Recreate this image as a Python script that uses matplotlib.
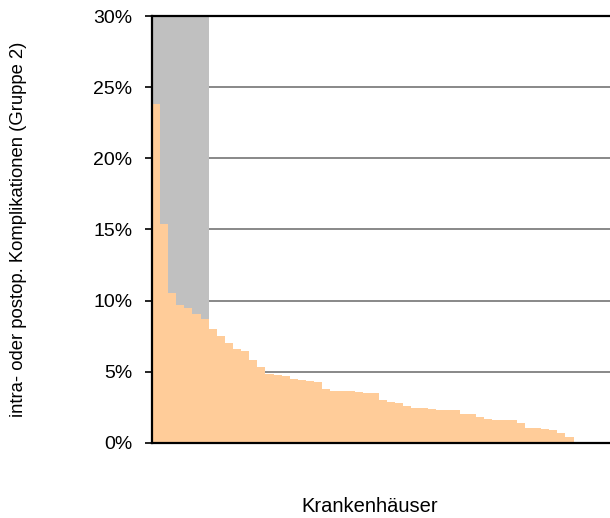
import matplotlib.pyplot as plt
from matplotlib.ticker import FuncFormatter

plt.rcParams['font.family'] = ['Liberation Sans', 'DejaVu Sans']

# Anteil Komplikationen je Krankenhaus (in %), absteigend sortiert
werte = [23.8, 15.4, 10.5, 9.66, 9.5, 9.07, 8.68, 8.0, 7.53, 7.0,
         6.6, 6.46, 5.82, 5.33, 4.82, 4.77, 4.72, 4.5, 4.4, 4.32,
         4.3, 3.79, 3.67, 3.65, 3.62, 3.6, 3.52, 3.5, 3.0, 2.86,
         2.79, 2.62, 2.47, 2.45, 2.39, 2.34, 2.32, 2.3, 2.05, 2.02,
         1.8, 1.68, 1.64, 1.6, 1.58, 1.4, 1.06, 1.04, 0.95, 0.93,
         0.72, 0.44]
# Anzahl der auffaelligen Haeuser (grauer Bereich) und dessen Hoehe
n_grau = 7
grau_hoehe = 30
yticks = [0, 5, 10, 15, 20, 25, 30]

fig = plt.figure(figsize=(6.1, 5.18), dpi=100)
ax = fig.add_axes([0.249, 0.145, 0.751, 0.824])

x = list(range(len(werte)))
ax.bar(x[:n_grau], [grau_hoehe] * n_grau, width=1, align='edge',
       color='#c0c0c0', linewidth=0, zorder=2)
ax.bar(x, werte, width=1, align='edge', color='#ffcc99', linewidth=0, zorder=3)

ax.set_xlim(0, 56.5)
ax.set_ylim(0, 30)
ax.set_yticks(yticks)
ax.yaxis.set_major_formatter(FuncFormatter(lambda v, p: '%d%%' % v))
ax.set_xticks([])
ax.yaxis.grid(True, color='#888888', linewidth=1.4, zorder=1)
ax.set_axisbelow(True)

for s in ['left', 'bottom', 'top']:
    ax.spines[s].set_linewidth(1.6)
    ax.spines[s].set_color('black')
    ax.spines[s].set_zorder(5)
ax.spines['right'].set_visible(False)

ax.tick_params(axis='y', length=5, width=1.2, pad=9, labelsize=14)

ax.set_ylabel('intra- oder postop. Komplikationen (Gruppe 2)', fontsize=13.3,
              ha='center', va='center')
ax.yaxis.set_label_coords(-0.291, 0.5)
ax.set_xlabel('Krankenhäuser', fontsize=14.5, va='baseline')
ax.xaxis.set_label_coords(0.476, -0.161)

fig.savefig('out.png', dpi=100)
